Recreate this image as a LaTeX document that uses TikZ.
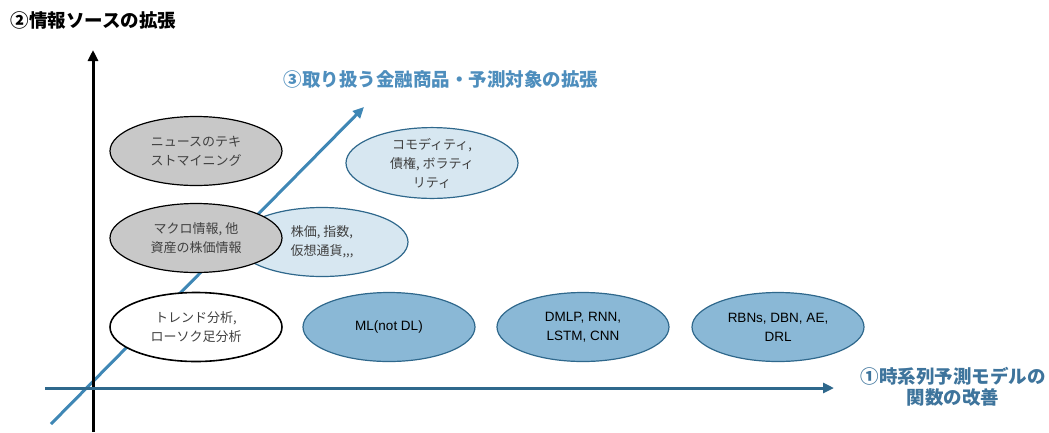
\documentclass[tikz,border=0pt]{standalone}
\usepackage{fontspec}
\setmainfont{Liberation Sans}
\newfontfamily\jp{Noto Sans CJK JP}
\usetikzlibrary{shapes.geometric,arrows.meta}
\definecolor{gfill}{RGB}{200,200,200}
\definecolor{lbfill}{RGB}{215,231,241}
\definecolor{mbfill}{RGB}{138,184,214}
\definecolor{dblue}{RGB}{47,104,140}
\definecolor{diagblue}{RGB}{63,135,181}
\definecolor{lblt}{RGB}{78,142,189}
\definecolor{lbla}{RGB}{62,116,156}
\definecolor{txtg}{RGB}{64,64,64}
\tikzset{
  ell/.style={ellipse, minimum width=172pt, minimum height=69pt, inner sep=0pt, align=center},
  grayell/.style={ell, fill=gfill, draw=black, line width=1.2pt, text=txtg, font=\fontsize{13}{19}\selectfont\jp},
  whiteell/.style={ell, fill=white, draw=black, line width=1.6pt, text=txtg, font=\fontsize{13}{19}\selectfont\jp},
  lightell/.style={ell, fill=lbfill, draw=dblue, line width=1.2pt, text=txtg, font=\fontsize{13}{19}\selectfont\jp},
  midell/.style={ell, fill=mbfill, draw=dblue, line width=1.2pt, text=black, font=\fontsize{13.5}{19}\selectfont},
  axlabel/.style={font=\fontsize{18.5}{21}\selectfont\jp\bfseries, align=center},
  tip/.style={-{Triangle[length=11pt,width=10pt]}}
}
\begin{document}
\begin{tikzpicture}[x=1pt,y=-1pt]
\useasboundingbox (0,0) rectangle (1049,432);
% coordinates
\coordinate (vbot) at (93,432);
\coordinate (vtop) at (93,50);
\coordinate (hl) at (45,388);
\coordinate (hr) at (834,388);
\coordinate (dl) at (51,424);
\coordinate (dr) at (364,107);
% light blue ellipses (under the diagonal arrow)
\node[lightell] (kabu) at (322,242) {株価, 指数,\\仮想通貨,,,};
\node[lightell] (commo) at (432,163) {コモディティ,\\債権, ボラティ\\リティ};
% diagonal arrow
\draw[tip, draw=diagblue, fill=diagblue, line width=3pt] (dl) -- (dr);
% gray / white ellipses
\node[grayell] (news) at (196,151) {ニュースのテキ\\ストマイニング};
\node[grayell] (macro) at (196,238) {マクロ情報, 他\\資産の株価情報};
\node[whiteell] (trend) at (196,327) {トレンド分析,\\ローソク足分析};
% model ellipses
\node[midell] (ml) at (389,327) {ML(not DL)};
\node[midell] (dmlp) at (583,327) {DMLP, RNN,\\LSTM, CNN};
\node[midell] (rbn) at (778,327) {RBNs, DBN, AE,\\DRL};
% axes
\draw[tip, draw=black, fill=black, line width=3pt] (vbot) -- (vtop);
\draw[tip, draw=dblue, fill=dblue, line width=3pt] (hl) -- (hr);
% labels
\node[axlabel, text=black, anchor=west] (lab2) at (7,20) {②情報ソースの拡張};
\node[axlabel, text=lblt, anchor=west] (lab3) at (280,79) {③取り扱う金融商品・予測対象の拡張};
\node[axlabel, text=lbla] (lab1) at (953,387) {①時系列予測モデルの\\関数の改善};
\end{tikzpicture}
\end{document}
